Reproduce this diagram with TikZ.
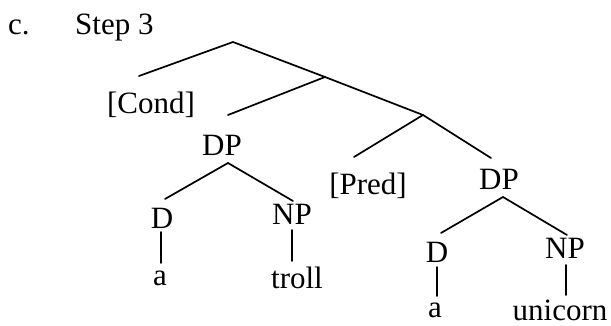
\documentclass[tikz,border=0pt]{standalone}
\usepackage{fontspec}
\setmainfont{Liberation Serif}
\begin{document}
\begin{tikzpicture}[x=1pt,y=-1pt,
  lbl/.style={inner sep=0pt, font=\fontsize{31}{37}\selectfont},
  br/.style={line width=1.7pt, line cap=round}]
\useasboundingbox (0,0) rectangle (611,326);
% header
\node[lbl, anchor=base west] (c) at (8,35) {c.};
\node[lbl, anchor=base west] (step) at (75,35) {Step 3};
% labels
\node[lbl] (cond) at (151,105) {[Cond]};
\node[lbl] (dp1) at (222,145) {DP};
\node[lbl] (d1) at (162,218) {D};
\node[lbl] (a1) at (160,278) {a};
\node[lbl] (np1) at (292,214) {NP};
\node[lbl] (troll) at (297,278) {troll};
\node[lbl] (pred) at (368,186) {[Pred]};
\node[lbl] (dp2) at (499,179) {DP};
\node[lbl] (d2) at (437,252) {D};
\node[lbl] (a2) at (435,310) {a};
\node[lbl] (np2) at (565,248) {NP};
\node[lbl] (unicorn) at (560,310) {unicorn};
% branch points and line ends
\coordinate (root) at (233,42);
\coordinate (rootL) at (139,76);
\coordinate (n2) at (325,77);
\coordinate (n2L) at (228,115);
\coordinate (n3) at (423,115);
\coordinate (n3L) at (354,157);
\coordinate (n3R) at (491,158);
\coordinate (dp1top) at (228,163);
\coordinate (dp1L) at (165,199);
\coordinate (dp1R) at (293,201);
\coordinate (d1b) at (161,232);
\coordinate (a1t) at (161,263);
\coordinate (np1b) at (292,230);
\coordinate (trollt) at (292,261);
\coordinate (dp2top) at (503,197);
\coordinate (dp2L) at (441,233);
\coordinate (dp2R) at (567,235);
\coordinate (d2b) at (437,267);
\coordinate (a2t) at (437,296);
\coordinate (np2b) at (566,265);
\coordinate (unit) at (566,295);
% branches
\draw[br] (rootL) -- (root) -- (n2);
\draw[br] (n2L) -- (n2) -- (n3);
\draw[br] (n3L) -- (n3) -- (n3R);
\draw[br] (dp1L) -- (dp1top) -- (dp1R);
\draw[br] (d1b) -- (a1t);
\draw[br] (np1b) -- (trollt);
\draw[br] (dp2L) -- (dp2top) -- (dp2R);
\draw[br] (d2b) -- (a2t);
\draw[br] (np2b) -- (unit);
\end{tikzpicture}
\end{document}
